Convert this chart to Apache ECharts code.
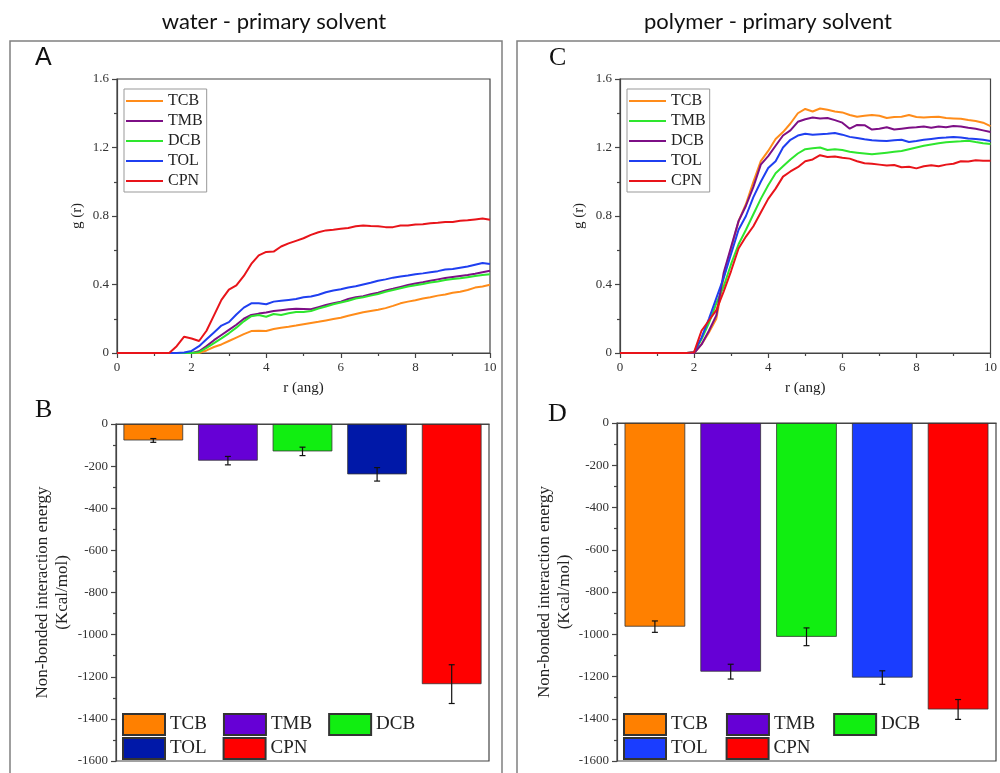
<!DOCTYPE html>
<html>
<head>
<meta charset="utf-8">
<script src="https://cdn.jsdelivr.net/npm/echarts@6/dist/echarts.min.js"></script>
<style>
html, body { margin: 0; padding: 0; background: #fff; }
#wrap { position: relative; width: 1000px; height: 773px; overflow: hidden; }
.layer { position: absolute; left: 0; top: 0; width: 1000px; height: 773px; }
</style>
</head>
<body>
<div id="wrap">
  <div id="chartA" class="layer"></div>
  <div id="chartB" class="layer"></div>
  <div id="chartC" class="layer"></div>
  <div id="chartD" class="layer"></div>
</div>
<script>
// r grid (ang), shared by both g(r) panels
var rGrid = [0, 0.2, 0.4, 0.6, 0.8, 1.0, 1.2, 1.4, 1.6, 1.8,
  2.0, 2.2, 2.4, 2.6, 2.8, 3.0, 3.2, 3.4, 3.6, 3.8,
  4.0, 4.2, 4.4, 4.6, 4.8, 5.0, 5.2, 5.4, 5.6, 5.8,
  6.0, 6.2, 6.4, 6.6, 6.8, 7.0, 7.2, 7.4, 7.6, 7.8,
  8.0, 8.2, 8.4, 8.6, 8.8, 9.0, 9.2, 9.4, 9.6, 9.8, 10];

// panel A : water - primary solvent
var namesA = ['TCB', 'TMB', 'DCB', 'TOL', 'CPN'];
var colorsA = ['#ff8c1a', '#7d0f86', '#2ee62e', '#1f3ff0', '#e8141a'];
var gA_TCB = [0, 0, 0, 0, 0, 0, 0, 0, 0, 0, 0, 0,
  0.015, 0.035, 0.05, 0.07, 0.09, 0.11, 0.128, 0.13, 0.128, 0.14, 0.148, 0.153, 0.16, 0.168,
  0.175, 0.182, 0.19, 0.198, 0.206, 0.218, 0.228, 0.238, 0.245, 0.252, 0.262, 0.275, 0.29, 0.3,
  0.308, 0.318, 0.325, 0.335, 0.342, 0.352, 0.358, 0.368, 0.382, 0.388, 0.398];
var gA_TMB = [0, 0, 0, 0, 0, 0, 0, 0, 0, 0, 0,
  0.01, 0.04, 0.075, 0.105, 0.135, 0.165, 0.2, 0.222, 0.23, 0.236, 0.245, 0.25, 0.255, 0.258,
  0.257, 0.255, 0.268, 0.28, 0.29, 0.3, 0.315, 0.325, 0.332, 0.343, 0.352, 0.365, 0.375, 0.386,
  0.397, 0.406, 0.413, 0.422, 0.43, 0.438, 0.444, 0.45, 0.456, 0.463, 0.472, 0.48];
var gA_DCB = [0, 0, 0, 0, 0, 0, 0, 0, 0, 0, 0,
  0.005, 0.03, 0.058, 0.085, 0.115, 0.148, 0.185, 0.215, 0.222, 0.212, 0.228, 0.222, 0.232, 0.24,
  0.24, 0.245, 0.26, 0.272, 0.285, 0.295, 0.305, 0.318, 0.325, 0.335, 0.345, 0.358, 0.368, 0.378,
  0.388, 0.396, 0.403, 0.412, 0.418, 0.426, 0.432, 0.437, 0.443, 0.449, 0.455, 0.46];
var gA_TOL = [0, 0, 0, 0, 0, 0, 0, 0, 0,
  0.003, 0.012, 0.04, 0.08, 0.12, 0.16, 0.18, 0.225, 0.265, 0.29, 0.29, 0.285, 0.3, 0.305,
  0.31, 0.315, 0.325, 0.33, 0.34, 0.355, 0.365, 0.372, 0.382, 0.39, 0.4, 0.41, 0.422, 0.43,
  0.44, 0.447, 0.452, 0.46, 0.465, 0.472, 0.478, 0.487, 0.49, 0.498, 0.505, 0.515, 0.525, 0.52];
var gA_CPN = [0, 0, 0, 0, 0, 0, 0, 0,
  0.04, 0.095, 0.085, 0.07, 0.13, 0.22, 0.31, 0.37, 0.395, 0.45, 0.52, 0.57, 0.59, 0.592,
  0.622, 0.64, 0.655, 0.67, 0.69, 0.705, 0.716, 0.72, 0.725, 0.73, 0.74, 0.745, 0.742, 0.74,
  0.735, 0.735, 0.745, 0.745, 0.75, 0.752, 0.758, 0.76, 0.765, 0.765, 0.772, 0.775, 0.78, 0.785, 0.778];

// panel C : polymer - primary solvent
var namesC = ['TCB', 'TMB', 'DCB', 'TOL', 'CPN'];
var colorsC = ['#ff8c1a', '#2ee62e', '#7d0f86', '#1f3ff0', '#e8141a'];
var gC_TCB = [0, 0, 0, 0, 0, 0, 0, 0, 0, 0,
  0.0, 0.05, 0.12, 0.2, 0.44, 0.61, 0.77, 0.87, 1.0, 1.12, 1.18, 1.25, 1.29, 1.34, 1.4,
  1.425, 1.41, 1.428, 1.42, 1.41, 1.405, 1.39, 1.38, 1.385, 1.39, 1.385, 1.372, 1.378, 1.38,
  1.39, 1.378, 1.375, 1.378, 1.38, 1.372, 1.37, 1.368, 1.36, 1.355, 1.345, 1.325];
var gC_TMB = [0, 0, 0, 0, 0, 0, 0, 0, 0, 0,
  0.005, 0.08, 0.175, 0.29, 0.39, 0.52, 0.635, 0.72, 0.81, 0.9, 0.98, 1.05, 1.09, 1.13, 1.165,
  1.19, 1.195, 1.2, 1.185, 1.19, 1.185, 1.175, 1.17, 1.165, 1.16, 1.165, 1.17, 1.175, 1.18,
  1.19, 1.2, 1.21, 1.218, 1.225, 1.23, 1.233, 1.236, 1.24, 1.232, 1.225, 1.22];
var gC_DCB = [0, 0, 0, 0, 0, 0, 0, 0, 0, 0,
  0.0, 0.05, 0.13, 0.22, 0.47, 0.62, 0.77, 0.86, 0.97, 1.1, 1.15, 1.21, 1.27, 1.3, 1.35,
  1.365, 1.375, 1.37, 1.372, 1.36, 1.345, 1.31, 1.332, 1.33, 1.305, 1.31, 1.318, 1.305, 1.31,
  1.315, 1.318, 1.322, 1.315, 1.322, 1.318, 1.325, 1.322, 1.315, 1.31, 1.3, 1.29];
var gC_TOL = [0, 0, 0, 0, 0, 0, 0, 0, 0, 0,
  0.005, 0.09, 0.2, 0.32, 0.44, 0.58, 0.72, 0.8, 0.91, 1.0, 1.08, 1.12, 1.2, 1.245, 1.27,
  1.28, 1.275, 1.278, 1.28, 1.285, 1.275, 1.262, 1.255, 1.248, 1.242, 1.24, 1.238, 1.242, 1.245,
  1.232, 1.238, 1.245, 1.25, 1.255, 1.258, 1.262, 1.258, 1.252, 1.25, 1.245, 1.238];
var gC_CPN = [0, 0, 0, 0, 0, 0, 0, 0, 0, 0,
  0.005, 0.13, 0.19, 0.25, 0.36, 0.48, 0.61, 0.68, 0.74, 0.82, 0.9, 0.96, 1.03, 1.06, 1.085,
  1.12, 1.13, 1.155, 1.145, 1.148, 1.14, 1.135, 1.12, 1.108, 1.105, 1.1, 1.095, 1.098, 1.085,
  1.088, 1.078, 1.09, 1.097, 1.09, 1.1, 1.105, 1.12, 1.118, 1.125, 1.122, 1.123];

// panels B and D : non-bonded interaction energy (Kcal/mol)
var solvents = ['TCB', 'TMB', 'DCB', 'TOL', 'CPN'];
var colorsB = ['#ff8000', '#6600d6', '#11ee11', '#0018a8', '#ff0000'];
var colorsD = ['#ff8000', '#6600d6', '#11ee11', '#1a3dff', '#ff0000'];
var energyB = [-78, -174, -130, -239, -1235];
var errorB = [9, 20, 20, 32, 92];
var energyD = [-964, -1177, -1012, -1205, -1356];
var errorD = [27, 35, 42, 32, 47];

var serif = '"Liberation Serif", "DejaVu Serif", serif';
var axisCol = '#444';
var lineSt = { color: axisCol, width: 1.2 };
var plainNum = function (v) { return String(v); };

function lineOption(grid, names, colors, series, legendLeft, yGap) {
  return {
    animation: false,
    grid: Object.assign({ show: true, borderColor: axisCol, borderWidth: 1.2, backgroundColor: 'transparent' }, grid),
    legend: {
      orient: 'vertical', left: legendLeft, top: 89,
      padding: [4, 4, 3, 2], icon: 'rect', itemWidth: 37, itemHeight: 2, itemGap: 4,
      borderColor: '#999', borderWidth: 1,
      textStyle: { fontFamily: serif, fontSize: 16, color: '#222', lineHeight: 16 },
      data: names
    },
    xAxis: {
      type: 'value', min: 0, max: 10, interval: 2,
      axisLine: { show: true, onZero: false, lineStyle: lineSt },
      axisTick: { show: true, length: 5, lineStyle: lineSt },
      minorTick: { show: true, splitNumber: 2, length: 3, lineStyle: lineSt },
      splitLine: { show: false },
      axisLabel: { margin: 8, color: '#333', fontSize: 13, fontFamily: serif },
      name: 'r (ang)', nameLocation: 'middle', nameGap: 28,
      nameTextStyle: { fontSize: 15, color: '#222', fontFamily: serif }
    },
    yAxis: {
      type: 'value', min: 0, max: 1.6, interval: 0.4,
      axisLine: { show: true, onZero: false, lineStyle: lineSt },
      axisTick: { show: true, length: 5, lineStyle: lineSt },
      minorTick: { show: true, splitNumber: 2, length: 3, lineStyle: lineSt },
      splitLine: { show: false },
      axisLabel: { margin: 8, color: '#333', fontSize: 13, fontFamily: serif },
      name: 'g (r)', nameLocation: 'middle', nameRotate: 90, nameGap: yGap,
      nameTextStyle: { fontSize: 15, color: '#222', fontFamily: serif }
    },
    series: names.map(function (n, i) {
      return {
        type: 'line', name: n, symbol: 'none', smooth: false,
        color: colors[i],
        itemStyle: { color: colors[i] },
        lineStyle: { width: 2, color: colors[i] },
        data: rGrid.map(function (r, k) { return [r, series[i][k]]; })
      };
    })
  };
}

function errRender(params, api) {
  var i = api.value(0), v = api.value(1), e = api.value(2);
  var p1 = api.coord([i, v + e]);
  var p2 = api.coord([i, v - e]);
  var w = 3;
  var st = { stroke: '#111', lineWidth: 1.2 };
  return {
    type: 'group',
    children: [
      { type: 'line', shape: { x1: p1[0], y1: p1[1], x2: p2[0], y2: p2[1] }, style: st },
      { type: 'line', shape: { x1: p1[0] - w, y1: p1[1], x2: p1[0] + w, y2: p1[1] }, style: st },
      { type: 'line', shape: { x1: p2[0] - w, y1: p2[1], x2: p2[0] + w, y2: p2[1] }, style: st }
    ]
  };
}

function barOption(grid, colors, energy, errs, legendLeft, legGap, yGap) {
  var legBase = {
    icon: 'rect', itemWidth: 42, itemHeight: 21, itemGap: legGap, padding: 0,
    left: legendLeft,
    textStyle: { fontFamily: serif, fontSize: 19, color: '#222', lineHeight: 21 }
  };
  var series = solvents.map(function (n, i) {
    return {
      type: 'bar', name: n, barWidth: '80%', barGap: '-100%',
      itemStyle: { color: colors[i], borderColor: '#333', borderWidth: 0.8 },
      data: energy.map(function (v, j) { return j === i ? v : '-'; })
    };
  });
  series.push({
    type: 'custom', name: 'error', renderItem: errRender, z: 10,
    encode: { x: 0, y: 1 },
    data: energy.map(function (v, i) { return [i, v, errs[i]]; })
  });
  return {
    animation: false,
    grid: Object.assign({ show: true, borderColor: axisCol, borderWidth: 1.2, backgroundColor: 'transparent' }, grid),
    legend: [
      Object.assign({ top: 713, data: ['TCB', 'TMB', 'DCB'] }, legBase),
      Object.assign({ top: 737, data: ['TOL', 'CPN'] }, legBase)
    ],
    xAxis: {
      type: 'category', data: solvents, position: 'top',
      axisLine: { show: true, onZero: false, lineStyle: lineSt },
      axisTick: { show: false }, axisLabel: { show: false }
    },
    yAxis: {
      type: 'value', min: -1600, max: 0, interval: 200,
      axisLine: { show: true, onZero: false, lineStyle: lineSt },
      axisTick: { show: true, length: 5, lineStyle: lineSt },
      minorTick: { show: true, splitNumber: 2, length: 3, lineStyle: lineSt },
      splitLine: { show: false },
      axisLabel: { margin: 8, color: '#333', fontSize: 13, fontFamily: serif, formatter: plainNum },
      name: 'Non-bonded interaction energy\n(Kcal/mol)',
      nameLocation: 'middle', nameRotate: 90, nameGap: yGap,
      nameTextStyle: { fontSize: 17, color: '#222', fontFamily: serif, lineHeight: 20 }
    },
    series: series
  };
}

var optA = lineOption({ left: 117, top: 79, width: 373, height: 274 }, namesA, colorsA,
  [gA_TCB, gA_TMB, gA_DCB, gA_TOL, gA_CPN], 124, 32);
optA.graphic = [
  { type: 'rect', shape: { x: 10, y: 41, width: 492, height: 760 }, style: { fill: 'none', stroke: '#808080', lineWidth: 1.5 } },
  { type: 'rect', shape: { x: 517, y: 41, width: 500, height: 760 }, style: { fill: 'none', stroke: '#808080', lineWidth: 1.5 } },
  { type: 'text', x: 274, y: 22, style: { text: 'water - primary solvent', fontFamily: 'Lato', fontSize: 22, fill: '#111', textAlign: 'center', textVerticalAlign: 'middle' } },
  { type: 'text', x: 768, y: 22, style: { text: 'polymer - primary solvent', fontFamily: 'Lato', fontSize: 22, fill: '#111', textAlign: 'center', textVerticalAlign: 'middle' } },
  { type: 'text', x: 35, y: 58, style: { text: 'A', fontFamily: '"Liberation Sans", Arial, sans-serif', fontSize: 25, fill: '#111', textVerticalAlign: 'middle' } },
  { type: 'text', x: 549, y: 58, style: { text: 'C', fontFamily: serif, fontSize: 26, fill: '#111', textVerticalAlign: 'middle' } },
  { type: 'text', x: 35, y: 410, style: { text: 'B', fontFamily: serif, fontSize: 26, fill: '#111', textVerticalAlign: 'middle' } },
  { type: 'text', x: 548, y: 414, style: { text: 'D', fontFamily: serif, fontSize: 26, fill: '#111', textVerticalAlign: 'middle' } }
];

var optC = lineOption({ left: 620, top: 79, width: 377, height: 274 }, namesC, colorsC,
  [gC_TCB, gC_TMB, gC_DCB, gC_TOL, gC_CPN], 627, 33);

var optB = barOption({ left: 116, top: 424, width: 373, height: 337 }, colorsB, energyB, errorB, 122, 16, 43);
var optD = barOption({ left: 617, top: 423, width: 379, height: 338 }, colorsD, energyD, errorD, 623, 18, 34);

echarts.init(document.getElementById('chartA'), null, { renderer: 'canvas' }).setOption(optA);
echarts.init(document.getElementById('chartB'), null, { renderer: 'canvas' }).setOption(optB);
echarts.init(document.getElementById('chartC'), null, { renderer: 'canvas' }).setOption(optC);
echarts.init(document.getElementById('chartD'), null, { renderer: 'canvas' }).setOption(optD);
</script>
</body>
</html>
